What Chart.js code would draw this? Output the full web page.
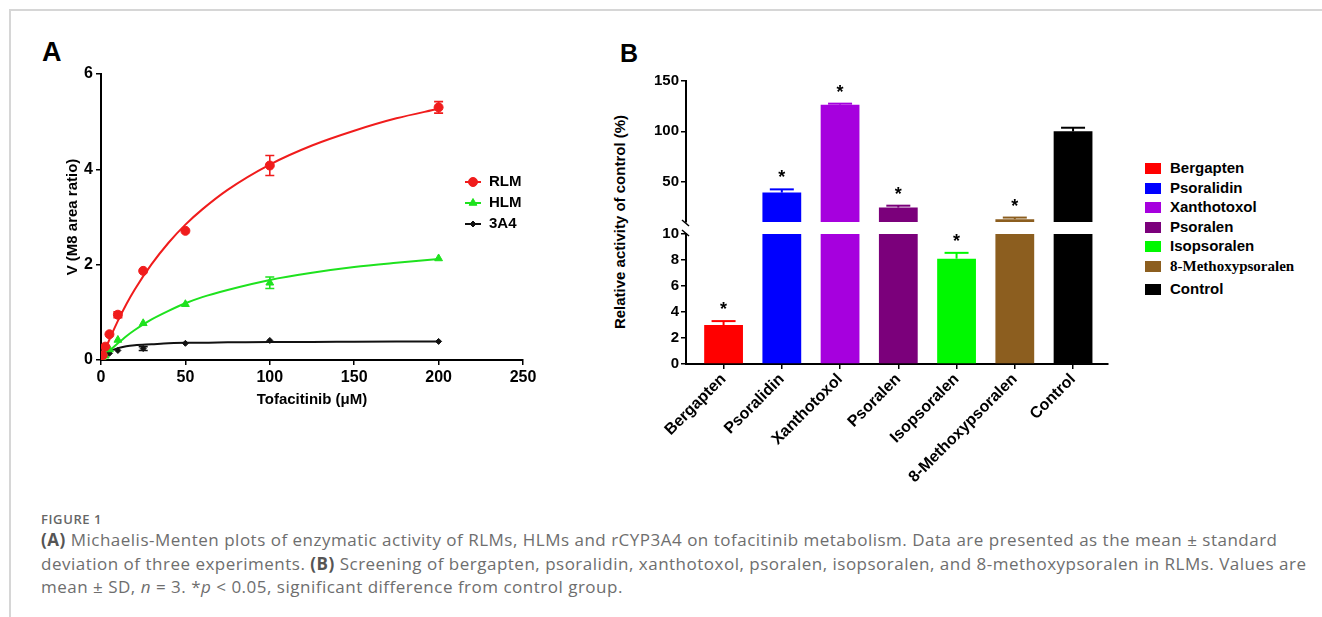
<!DOCTYPE html>
<html>
<head>
<meta charset="utf-8">
<script src="https://cdn.jsdelivr.net/npm/chart.js@4.4.1/dist/chart.umd.min.js"></script>
<style>
  body { margin: 0; background: #fff; width: 1322px; height: 617px; position: relative; overflow: hidden; font-family: "Liberation Sans", Arial, sans-serif; }
  .frame { position: absolute; left: 9px; top: 9px; width: 1330px; height: 620px; border-top: 2px solid #d6d6d6; border-left: 2px solid #d6d6d6; }
  canvas { position: absolute; }
  .letter { position: absolute; font-weight: bold; line-height: 1; color: #000; }
  #ytitleB { position: absolute; left: 619px; top: 222px; transform: translate(-50%, -50%) rotate(-90deg); white-space: nowrap; font: bold 15px "Liberation Sans"; color: #000; }
  #legendB { position: absolute; left: 1145px; top: 158px; font: bold 15px "Liberation Sans"; color: #000; }
  #legendB .row { height: 19.6px; line-height: 19.6px; white-space: nowrap; }
  #legendB .box { display: inline-block; width: 16px; height: 11px; margin-right: 9px; vertical-align: -1px; }
  .caphead { position: absolute; left: 41px; top: 511px; font: 600 13px "Open Sans"; letter-spacing: 0.6px; line-height: 17px; color: #666; }
  .caption { position: absolute; left: 41px; top: 528px; font: 17px "Open Sans"; letter-spacing: 0.5px; line-height: 23.5px; color: #6e6e6e; white-space: nowrap; }
  .caption b { color: #555; }
</style>
</head>
<body>
<div class="frame"></div>
<div class="letter" style="left:42px;top:39px;font-size:27px;">A</div>
<div class="letter" style="left:620px;top:41px;font-size:25px;">B</div>

<canvas id="chartA" width="490" height="353" style="left:60px;top:60px;"></canvas>
<canvas id="chartBtop" width="480" height="168" style="left:640px;top:65px;"></canvas>
<canvas id="chartBbottom" width="480" height="272" style="left:640px;top:223px;"></canvas>
<div id="ytitleB">Relative activity of control (%)</div>
<div id="legendB"></div>

<div class="caphead">FIGURE 1</div>
<div class="caption"><b>(A)</b> Michaelis-Menten plots of enzymatic activity of RLMs, HLMs and rCYP3A4 on tofacitinib metabolism. Data are presented as the mean ± standard<br>deviation of three experiments. <b>(B)</b> Screening of bergapten, psoralidin, xanthotoxol, psoralen, isopsoralen, and 8-methoxypsoralen in RLMs. Values are<br>mean ± SD, <i>n</i> = 3. *<i>p</i> &lt; 0.05, significant difference from control group.</div>

<script>
// ---- panel A: tofacitinib concentration vs M8 formation
var conc = [1, 2.5, 5, 10, 25, 50, 100, 200];
var rlm = [0.10, 0.28, 0.54, 0.95, 1.87, 2.71, 4.08, 5.30];
var rlmSd = [0, 0, 0, 0.06, 0, 0, 0.21, 0.12];
var hlm = [0.03, 0.09, 0.22, 0.42, 0.77, 1.17, 1.62, 2.13];
var hlmSd = [0, 0, 0, 0, 0, 0, 0.12, 0];
var cyp = [0.05, 0.09, 0.14, 0.20, 0.24, 0.35, 0.41, 0.39];
var cypSd = [0, 0, 0, 0, 0.04, 0, 0, 0];

// fitted curves
var fitX = [0, 2.5, 5, 10, 15, 20, 30, 40, 50, 60, 75, 100, 125, 150, 175, 200];
var rlmFit = [0, 0.22, 0.43, 0.82, 1.17, 1.48, 2.01, 2.46, 2.84, 3.16, 3.57, 4.10, 4.50, 4.81, 5.07, 5.27];
var hlmFit = [0, 0.10, 0.19, 0.35, 0.50, 0.63, 0.85, 1.03, 1.19, 1.32, 1.47, 1.68, 1.83, 1.95, 2.04, 2.12];
var cypFit = [0, 0.12, 0.18, 0.25, 0.29, 0.31, 0.33, 0.35, 0.36, 0.36, 0.37, 0.38, 0.38, 0.385, 0.387, 0.388];

var ticksAx = [0, 50, 100, 150, 200, 250];
var ticksAy = [0, 2, 4, 6];

// ---- panel B: screening in RLMs
var compounds = ['Bergapten', 'Psoralidin', 'Xanthotoxol', 'Psoralen', 'Isopsoralen', '8-Methoxypsoralen', 'Control'];
var activity = [3.0, 39.2, 126.5, 24.3, 8.1, 12.8, 100];
var activitySd = [0.3, 3.2, 1.0, 1.9, 0.45, 1.6, 3.6];
var significant = [true, true, true, true, true, true, false];
var lowerTicks = [0, 2, 4, 6, 8, 10];
var upperTicks = [50, 100, 150];

var barColors = ['#ff0000', '#0000ff', '#a600de', '#7b007b', '#00f800', '#8c5e1f', '#000000'];
var red = '#f01c1c', green = '#1ee21e', black = '#111111';

function pts(xs, ys) {
  return xs.map(function(x, i) { return { x: x, y: ys[i] }; });
}

var boldTick = { family: 'Liberation Sans', weight: 'bold', size: 16 };
var boldTitle = { family: 'Liberation Sans', weight: 'bold', size: 15 };

var errorBarsA = {
  id: 'errorBarsA',
  afterDatasetsDraw: function(chart) {
    var ctx = chart.ctx, xs = chart.scales.x, ys = chart.scales.y;
    chart.data.datasets.forEach(function(ds) {
      if (!ds.errors) return;
      ctx.save();
      ctx.strokeStyle = ds.borderColor;
      ctx.lineWidth = 1.6;
      ds.data.forEach(function(p, i) {
        var e = ds.errors[i];
        if (!e) return;
        var px = xs.getPixelForValue(p.x);
        var top = ys.getPixelForValue(p.y + e), bot = ys.getPixelForValue(p.y - e);
        ctx.beginPath();
        ctx.moveTo(px, top); ctx.lineTo(px, bot);
        ctx.moveTo(px - 4.5, top); ctx.lineTo(px + 4.5, top);
        ctx.moveTo(px - 4.5, bot); ctx.lineTo(px + 4.5, bot);
        ctx.stroke();
      });
      ctx.restore();
    });
  }
};

var legendA = {
  id: 'legendA',
  afterDraw: function(chart) {
    var ctx = chart.ctx, area = chart.chartArea;
    var x0 = area.right - 58, y0 = area.top + 108;
    var items = chart.data.datasets.filter(function(d) { return d.legendText; });
    ctx.save();
    items.forEach(function(d, i) {
      var y = y0 + i * 21;
      ctx.strokeStyle = d.borderColor;
      ctx.lineWidth = 2;
      ctx.beginPath(); ctx.moveTo(x0, y); ctx.lineTo(x0 + 16, y); ctx.stroke();
      ctx.fillStyle = d.backgroundColor;
      ctx.lineWidth = 1;
      Chart.helpers.drawPoint(ctx, { pointStyle: d.pointStyle, radius: d.pointRadius, rotation: 0, borderWidth: 1 }, x0 + 8, y);
      ctx.fillStyle = '#000';
      ctx.font = 'bold 15px "Liberation Sans"';
      ctx.textBaseline = 'middle';
      ctx.fillText(d.legendText, x0 + 24, y);
    });
    ctx.restore();
  }
};

function pointSet(label, xs, ys, sd, color, style, r) {
  return {
    legendText: label, data: pts(xs, ys), errors: sd, showLine: false,
    pointStyle: style, pointRadius: r, backgroundColor: color, borderColor: color, borderWidth: 1
  };
}
function fitSet(ys, color) {
  return {
    data: pts(fitX, ys), borderColor: color, borderWidth: 2, pointRadius: 0,
    cubicInterpolationMode: 'monotone', fill: false
  };
}

new Chart(document.getElementById('chartA'), {
  type: 'line',
  data: {
    datasets: [
      pointSet('RLM', conc, rlm, rlmSd, red, 'circle', 4.5),
      pointSet('HLM', conc, hlm, hlmSd, green, 'triangle', 4.5),
      pointSet('3A4', conc, cyp, cypSd, black, 'rectRot', 3),
      fitSet(rlmFit, red),
      fitSet(hlmFit, green),
      fitSet(cypFit, black)
    ]
  },
  options: {
    responsive: false, animation: false,
    layout: { padding: { top: 14, right: 27, left: 0, bottom: 0 } },
    plugins: { legend: { display: false }, tooltip: { enabled: false } },
    scales: {
      x: {
        type: 'linear', min: 0, max: 250,
        afterBuildTicks: function(s) { s.ticks = ticksAx.map(function(v) { return { value: v }; }); },
        afterFit: function(s) { s.height = 53; },
        ticks: { color: '#000', font: boldTick, padding: 3 },
        grid: { drawOnChartArea: false, color: '#000', lineWidth: 1.5, tickLength: 5 },
        border: { color: '#000', width: 2 },
        title: { display: true, text: 'Tofacitinib (μM)', color: '#000', font: boldTitle }
      },
      y: {
        min: 0, max: 6,
        afterBuildTicks: function(s) { s.ticks = ticksAy.map(function(v) { return { value: v }; }); },
        afterFit: function(s) { s.width = 41; },
        ticks: { color: '#000', font: boldTick, padding: 3 },
        grid: { drawOnChartArea: false, color: '#000', lineWidth: 1.5, tickLength: 5 },
        border: { color: '#000', width: 2 },
        title: { display: true, text: 'V (M8 area ratio)', color: '#000', font: boldTitle }
      }
    }
  },
  plugins: [errorBarsA, legendA]
});

// ---- panel B, drawn as two charts for the broken y axis
var barMarks = {
  id: 'barMarks',
  afterDatasetsDraw: function(chart) {
    var ctx = chart.ctx, ys = chart.scales.y, meta = chart.getDatasetMeta(0);
    var lo = ys.min, hi = ys.max;
    ctx.save();
    activity.forEach(function(v, i) {
      var bar = meta.data[i], cap = v + activitySd[i];
      ctx.strokeStyle = barColors[i];
      ctx.lineWidth = 2;
      if (cap > lo && v < hi) {
        ctx.beginPath();
        ctx.moveTo(bar.x, ys.getPixelForValue(Math.max(v, lo)));
        ctx.lineTo(bar.x, ys.getPixelForValue(Math.min(cap, hi)));
        ctx.stroke();
      }
      if (cap > lo && cap <= hi) {
        var cy = ys.getPixelForValue(cap);
        ctx.beginPath();
        ctx.moveTo(bar.x - 12, cy); ctx.lineTo(bar.x + 12, cy);
        ctx.stroke();
        if (significant[i]) {
          ctx.fillStyle = '#000';
          ctx.font = 'bold 18px "Liberation Sans"';
          ctx.textAlign = 'center';
          ctx.textBaseline = 'alphabetic';
          ctx.fillText('*', bar.x, cy - 6);
        }
      }
    });
    ctx.restore();
  }
};

var breakMarks = {
  id: 'breakMarks',
  afterDraw: function(chart, args, opts) {
    var ctx = chart.ctx, x = chart.chartArea.left;
    ctx.save();
    ctx.strokeStyle = '#000';
    ctx.lineWidth = 1.5;
    ctx.beginPath();
    if (opts.edge === 'bottom') {
      var y = chart.chartArea.bottom;
      ctx.moveTo(x - 4, y - 2); ctx.lineTo(x + 3, y + 4);
    } else {
      var y2 = chart.chartArea.top;
      ctx.moveTo(x - 4, y2 - 4); ctx.lineTo(x + 3, y2 + 2);
    }
    ctx.stroke();
    ctx.restore();
  }
};

function makeB(id, part) {
  var upper = part === 'upper';
  var yTicks = upper ? upperTicks : lowerTicks;
  return new Chart(document.getElementById(id), {
    type: 'bar',
    data: {
      datasets: [{
        data: pts(compounds.map(function(c, i) { return i; }), activity),
        backgroundColor: barColors, borderWidth: 0,
        barPercentage: 0.74, categoryPercentage: 0.9, clip: 0
      }]
    },
    options: {
      responsive: false, animation: false,
      layout: { padding: upper ? { top: 16, right: 12, bottom: 5, left: 0 } : { top: 10, right: 12, bottom: 0, left: 0 } },
      plugins: { legend: { display: false }, tooltip: { enabled: false }, breakMarks: { edge: upper ? 'bottom' : 'top' } },
      scales: {
        x: {
          type: 'linear', min: -0.645, max: 6.6, display: !upper, offset: false,
          afterBuildTicks: function(s) { s.ticks = compounds.map(function(c, i) { return { value: i }; }); },
          afterFit: function(s) { s.height = upper ? 0 : 131; },
          ticks: {
            color: '#000', font: boldTick, padding: 1, autoSkip: false, minRotation: 45, maxRotation: 45,
            callback: function(v) { return compounds[v]; }
          },
          grid: { offset: false, drawOnChartArea: false, color: '#000', lineWidth: 1.5, tickLength: 5 },
          border: { color: '#000', width: 2 }
        },
        y: {
          min: upper ? 10 : 0, max: upper ? 150 : 10,
          afterBuildTicks: function(s) { s.ticks = yTicks.map(function(v) { return { value: v }; }); },
          afterFit: function(s) { s.width = 46; },
          ticks: { color: '#000', font: { family: 'Liberation Sans', weight: 'bold', size: 15 }, padding: 2 },
          grid: { drawOnChartArea: false, color: '#000', lineWidth: 1.5, tickLength: 5 },
          border: { color: '#000', width: 2 }
        }
      }
    },
    plugins: [barMarks, breakMarks]
  });
}

makeB('chartBtop', 'upper');
makeB('chartBbottom', 'lower');

// legend for panel B
var legendHtml = '';
compounds.forEach(function(c, i) {
  var style = c === '8-Methoxypsoralen' ? ' style="font-family:\'Liberation Serif\';"' : '';
  var gap = c === 'Control' ? ' style="margin-top:3.7px;"' : '';
  legendHtml += '<div class="row"' + gap + '><span class="box" style="background:' + barColors[i] + ';"></span><span' + style + '>' + c + '</span></div>';
});
document.getElementById('legendB').innerHTML = legendHtml;
</script>
</body>
</html>
